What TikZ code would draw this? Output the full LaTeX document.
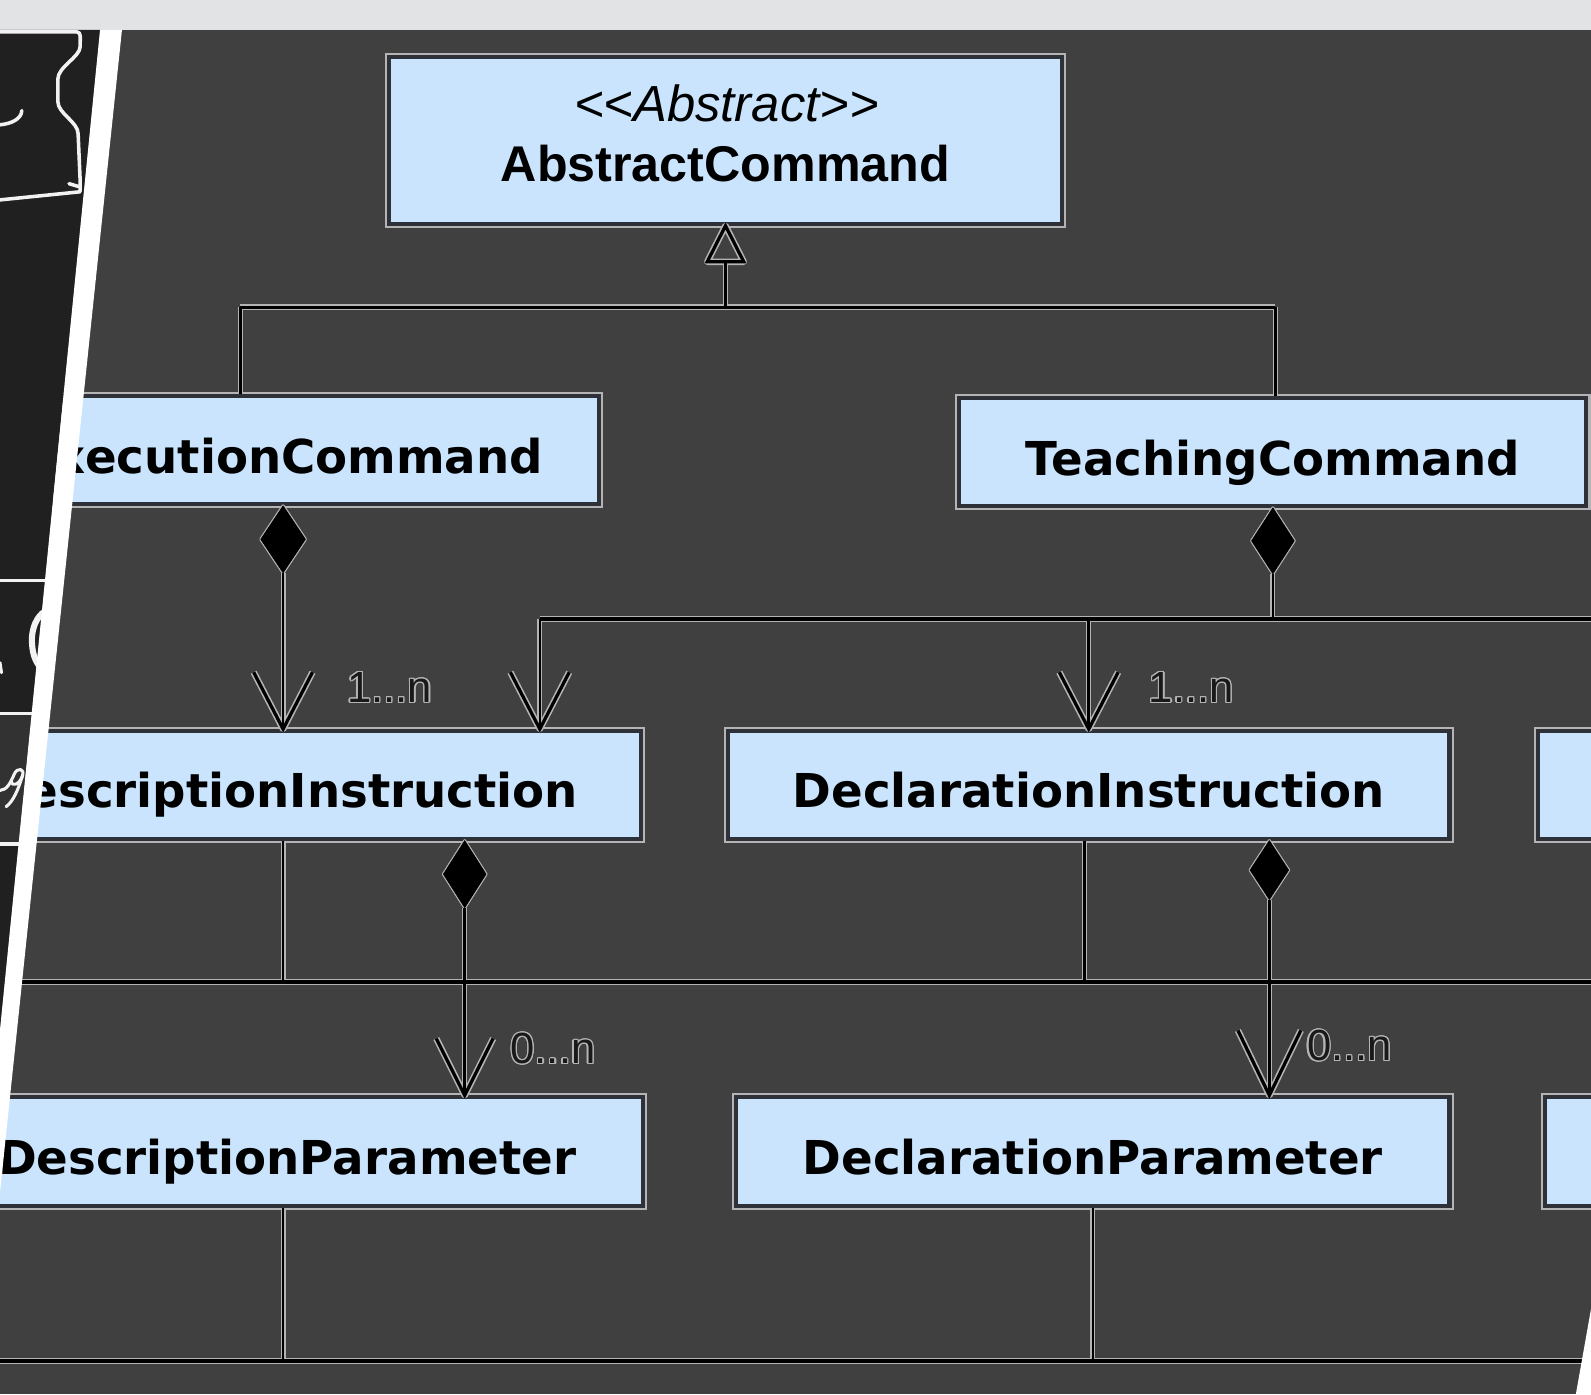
\documentclass[tikz,border=0pt]{standalone}
\usepackage{fontspec}
\setmainfont{Liberation Sans}
\newfontfamily\boxfont{DejaVu Sans}
\usepackage{contour}
\contourlength{1.2pt}
\usetikzlibrary{calc}
\definecolor{bgc}{HTML}{404040}
\definecolor{topc}{HTML}{E2E3E5}
\definecolor{panelc}{HTML}{202020}
\definecolor{panelb}{HTML}{323232}
\definecolor{boxc}{HTML}{C9E4FC}
\definecolor{haloc}{HTML}{B4B4B4}
\definecolor{edgec}{HTML}{2E3238}
\definecolor{chalk}{HTML}{F2F2F2}

% #1 vertical lines, #2 horizontal lines, #3 filled diamonds, #4 open shapes
\newcommand\umlconnectors[4]{%
  \draw[#4] (abs.south) -- ([xshift=18pt]gTop) -- ([xshift=-18pt]gTop) -- cycle;
  \draw[#1] (gTop) -- (gJ);
  \draw[#2] (gL) -- (gR);
  \draw[#1] (gL) -- (gL |- exec.north);
  \draw[#1] (gR) -- (gR |- teach.north);
  % ExecutionCommand -> DescriptionInstruction
  \draw[#3] (eDt) -- ++(22,33) -- (eDb) -- ++(-22,-33) -- cycle;
  \draw[#1] (eDb) -- (eDb |- descI.north);
  \draw[#4] (eDb |- descI.north) ++(-29,-56) -- ++(29,56) -- ++(29,-56);
  % TeachingCommand -> instructions
  \draw[#3] (tDt) -- ++(21,32.5) -- (tDb) -- ++(-21,-32.5) -- cycle;
  \draw[#1] (tDb) -- (tJ);
  \draw[#2] (tL) -- (tR);
  \draw[#1] (tL) -- (tL |- descI.north);
  \draw[#4] (tL |- descI.north) ++(-29,-56) -- ++(29,56) -- ++(29,-56);
  \draw[#1] (tM) -- (tM |- declI.north);
  \draw[#4] (tM |- declI.north) ++(-29,-56) -- ++(29,56) -- ++(29,-56);
  % row 2 bottom bus
  \draw[#1] (bL |- descI.south) -- (bL);
  \draw[#1] (bM |- declI.south) -- (bM);
  \draw[#2] (bW) -- (bE);
  % instruction -> parameter compositions
  \draw[#3] (dDt) -- ++(21,33) -- (dDb) -- ++(-21,-33) -- cycle;
  \draw[#1] (dDb) -- (dDb |- descP.north);
  \draw[#4] (dDb |- descP.north) ++(-28,-56) -- ++(28,56) -- ++(28,-56);
  \draw[#3] (cDt) -- ++(19,29) -- (cDb) -- ++(-19,-29) -- cycle;
  \draw[#1] (cDb) -- (cDb |- declP.north);
  \draw[#4] (cDb |- declP.north) ++(-31,-64) -- ++(31,64) -- ++(31,-64);
  % row 3 bottom bus
  \draw[#1] (pL |- descP.south) -- (pL);
  \draw[#1] (pM |- declP.south) -- (pM);
  \draw[#2] (pW) -- (pE);
}

\begin{document}
\begin{tikzpicture}[x=1pt,y=-1pt,
  umlbox/.style={rectangle, fill=boxc, draw=edgec, line width=4pt,
     preaction={draw=haloc, line width=8pt}, inner sep=0pt,
     font=\boxfont\bfseries\fontsize{46}{55}\selectfont,
     text height=45.5pt, text depth=0pt, text=black},
  multlabel/.style={inner sep=0pt, text=black!90, font=\fontsize{43}{50}\selectfont},
  panelline/.style={draw=chalk, line width=3.5pt, line cap=round, line join=round},
  hv/.style={draw=haloc, line width=4.8pt, line join=round},
  hh/.style={draw=haloc, line width=6pt, line join=round},
  hd/.style={draw=haloc, fill=haloc, line width=3pt, line join=round},
  ho/.style={draw=haloc, line width=6.4pt, line join=round},
  cv/.style={draw=black, line width=2.5pt},
  ch/.style={draw=black, line width=3.6pt},
  cd/.style={draw=black, fill=black, line width=0.6pt},
  co/.style={draw=black, line width=3.2pt, line join=miter},
]
\useasboundingbox (0,0) rectangle (1568,1374);
\clip (0,0) rectangle (1568,1374);
\fill[bgc] (0,0) rectangle (1568,1374);
\fill[topc] (0,0) rectangle (1568,29.5);

% classes
\node[umlbox, minimum width=663pt, minimum height=164pt] (abs) at (715,138.5) {};
\node[inner sep=0pt, font=\itshape\fontsize{50}{58}\selectfont] (absst) at (716,102) {<\kern0pt<Abstract>\kern0pt>};
\node[inner sep=0pt, font=\bfseries\fontsize{49.5}{58}\selectfont] (absname) at (715,161) {AbstractCommand};
\node[umlbox, minimum width=623pt, minimum height=106pt] (exec) at (279,443.5) {ExecutionCommand};
\node[umlbox, minimum width=618pt, minimum height=106pt] (teach) at (1254.5,445.5) {TeachingCommand};
\node[umlbox, minimum width=705pt, minimum height=106pt] (descI) at (279,773.5) {DescriptionInstruction};
\node[umlbox, minimum width=711pt, minimum height=106pt] (declI) at (1073,773.5) {DeclarationInstruction};
\node[umlbox, minimum width=800pt, minimum height=106pt] (rI) at (1915.5,773.5) {};
\node[umlbox, minimum width=701pt, minimum height=107pt] (descP) at (283,1135) {DescriptionParameter};
\node[umlbox, minimum width=703pt, minimum height=107pt] (declP) at (1077,1135) {DeclarationParameter};
\node[umlbox, minimum width=800pt, minimum height=107pt] (rP) at (1922.5,1135) {};

% junction points
\coordinate (gTop) at (715,258);
\coordinate (gJ) at (715,303);
\coordinate (gL) at (237,303);
\coordinate (gR) at (1257,303);
\coordinate (eDt) at (exec.south);
\coordinate (eDb) at ($(exec.south)+(0,66)$);
\coordinate (tDt) at (teach.south);
\coordinate (tDb) at ($(teach.south)+(0,65)$);
\coordinate (tJ) at (1254.5,610);
\coordinate (tL) at (532,610);
\coordinate (tM) at (1073,610);
\coordinate (tR) at (1620,610);
\coordinate (bL) at (279,968);
\coordinate (bM) at (1069,968);
\coordinate (bW) at (-20,968);
\coordinate (bE) at (1620,968);
\coordinate (dDt) at (458,0 |- descI.south);
\coordinate (dDb) at ($(dDt)+(0,66)$);
\coordinate (cDt) at (1251,0 |- declI.south);
\coordinate (cDb) at ($(cDt)+(0,58)$);
\coordinate (pL) at (279,1341);
\coordinate (pM) at (1077,1341);
\coordinate (pW) at (-20,1341);
\coordinate (pE) at (1620,1341);

% connectors: halo pass, then core pass
\umlconnectors{hv}{hh}{hd}{ho}
\umlconnectors{cv}{ch}{cd}{co}

% multiplicities
\node[multlabel] (m1) at (384,678) {\contour{haloc}{1...n}};
\node[multlabel] (m2) at (1174,678) {\contour{haloc}{1...n}};
\node[multlabel] (m3) at (545,1034) {\contour{haloc}{0...n}};
\node[multlabel] (m4) at (1330,1031) {\contour{haloc}{0...n}};

% left panel (board behind the page fold)
\fill[panelc] (0,29.5) -- (98.6,29.5) -- (0,1015) -- cycle;
\fill[panelb] (0,704) -- (31.2,704) -- (18.4,831) -- (0,831) -- cycle;
\draw[panelline] (0,31.5) -- (76,31.5) .. controls (80,32) and (79,36) .. (79,46)
   .. controls (79,56) and (57,66) .. (57,78) -- (57,100)
   .. controls (57,112) and (77,120) .. (77,132) -- (79,178) -- (79,188);
\draw[panelline] (79,189) -- (0,197);
\draw[panelline] (68,181) -- (78,184);
\draw[panelline] (0,123) .. controls (10,122) and (21,118) .. (21.5,109);
\draw[panelline] (0,572) -- (50,572);
\draw[panelline] (0,703) -- (40,703);
\draw[panelline] (0,832) -- (30,832);
\draw[panelline, line width=6pt] (42,604) .. controls (33,612) and (31,625) .. (31.5,633)
   .. controls (32,645) and (35,652) .. (40,658);
\draw[panelline, line width=3pt] (0,653) -- (1.5,663);
\draw[panelline, line width=3pt] (0,779) .. controls (7,779) and (11,770) .. (14,763)
   .. controls (17,756) and (25,757) .. (22,765) .. controls (19,773) and (12,776) .. (11,770);
\draw[panelline, line width=3pt] (22,765) .. controls (18,778) and (13,790) .. (6,795);
% white page-fold stripe
\fill[white] (98.6,29.5) -- (120.2,29.5) -- (0,1175) -- (0,1015) -- cycle;
% white wedge bottom right
\fill[white] (1568,1290) -- (1580,1290) -- (1580,1380) -- (1552,1380) -- cycle;
\end{tikzpicture}
\end{document}
